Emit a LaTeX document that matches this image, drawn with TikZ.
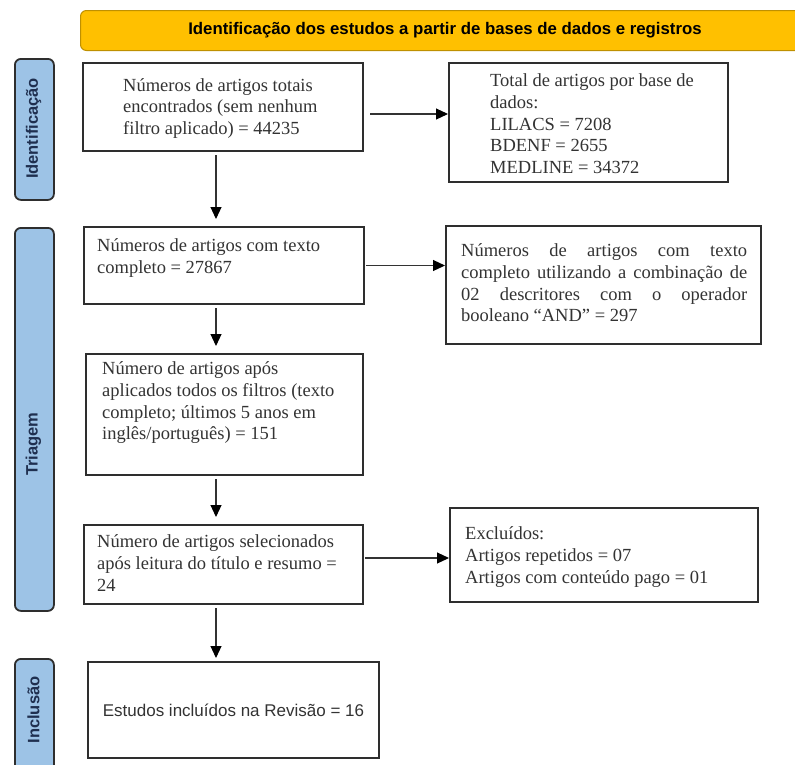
\documentclass[tikz,border=0pt]{standalone}
\usepackage{fontspec}
\setmainfont{Liberation Serif}
\setsansfont{Liberation Sans}
\usetikzlibrary{arrows.meta,calc}
\definecolor{gold}{HTML}{FFC000}
\definecolor{goldline}{HTML}{BF9000}
\definecolor{sideblue}{HTML}{9DC3E6}
\definecolor{sidetext}{HTML}{1F2F4F}
\definecolor{boxline}{HTML}{2E2E2E}
\definecolor{txt}{HTML}{333333}
\newcommand\fls{\rule{0pt}{18pt}}
\begin{document}
\begin{tikzpicture}[x=1pt,y=-1pt,
  frame/.style={draw=boxline, line width=2pt, fill=white, inner sep=0pt, anchor=north west},
  side/.style={draw=boxline, line width=1.8pt, fill=sideblue, rounded corners=6pt, inner sep=0pt, anchor=north west},
  sidelabel/.style={rotate=90, font=\sffamily\bfseries\fontsize{16.5}{20}\selectfont, text=sidetext, inner sep=0pt},
  body/.style={anchor=north west, inner sep=0pt, align=left, text=txt, font=\fontsize{18.5}{21.7}\selectfont},
  arr/.style={draw=txt, line width=1.1pt, -{Triangle[length=12pt,width=11pt,color=black]}},
]
\useasboundingbox (0,0) rectangle (795,764);

% banner
\node[draw=goldline, line width=1pt, fill=gold, rounded corners=6pt, inner sep=0pt,
      anchor=north west, minimum width=725pt, minimum height=40pt] (ban) at (80,10) {};
\node[font=\sffamily\bfseries\fontsize{16.8}{20}\selectfont, inner sep=0pt] (bant)
      at ($(ban.west)+(365,0)$) {Identificação dos estudos a partir de bases de dados e registros};

% side labels
\node[side, minimum width=39pt, minimum height=141pt] (s1) at (14,58) {};
\node[side, minimum width=39pt, minimum height=383pt] (s2) at (14,227) {};
\node[side, minimum width=39pt, minimum height=130pt] (s3) at (14,658) {};
\node[sidelabel] (s1t) at (33.5,128.5) {Identificação};
\node[sidelabel] (s2t) at (33.5,444) {Triagem};
\node[sidelabel] (s3t) at (33.5,710) {Inclusão};

% frames
\node[frame, minimum width=280pt, minimum height=88pt] (b1) at (82,62) {};
\node[frame, minimum width=280pt, minimum height=77pt] (b2) at (83,226) {};
\node[frame, minimum width=277pt, minimum height=121pt] (b3) at (85,353) {};
\node[frame, minimum width=279pt, minimum height=79pt] (b4) at (83,524) {};
\node[frame, minimum width=291pt, minimum height=96pt] (b5) at (87,661) {};
\node[frame, minimum width=279pt, minimum height=119pt] (r1) at (448,62) {};
\node[frame, minimum width=315pt, minimum height=118pt] (r2) at (445,225) {};
\node[frame, minimum width=308pt, minimum height=94pt] (r3) at (449,507) {};

% texts
\node[body] (b1t) at ($(b1.north west)+(41,11)$)
  {\fls Números de artigos totais\\encontrados (sem nenhum\\filtro aplicado) = 44235};
\node[body] (b2t) at ($(b2.north west)+(14,7.5)$)
  {\fls Números de artigos com texto\\completo = 27867};
\node[body] (b3t) at ($(b3.north west)+(17,3.5)$)
  {\fls Número de artigos após\\aplicados todos os filtros (texto\\completo; últimos 5 anos em\\inglês/português) = 151};
\node[body] (b4t) at ($(b4.north west)+(14,5.5)$)
  {\fls Número de artigos selecionados\\após leitura do título e resumo =\\24};
\node[font=\sffamily\fontsize{17}{20}\selectfont, text=txt, inner sep=0pt] (b5t)
  at (b5.center) {Estudos incluídos na Revisão = 16};
\node[body] (r1t) at ($(r1.north west)+(42,6.5)$)
  {\fls Total de artigos por base de\\dados:\\LILACS = 7208\\BDENF = 2655\\MEDLINE = 34372};
\node[body, text width=286pt, align=justify] (r2t) at ($(r2.north west)+(16,13.5)$)
  {\hyphenpenalty=10000 \tolerance=10000 \hbadness=10000 \fls Números de artigos com texto\linebreak completo utilizando a combinação de\linebreak 02 descritores com o operador\linebreak booleano “AND” = 297};
\node[body] (r3t) at ($(r3.north west)+(16,14.5)$)
  {\fls Excluídos:\\Artigos repetidos = 07\\Artigos com conteúdo pago = 01};

% arrows
\coordinate (ax) at (216,0);
\draw[arr] ($(b1.south -| ax)+(0,3)$) -- ($(b2.north -| ax)+(0,-7)$);
\draw[arr] ($(b2.south -| ax)+(0,3)$) -- ($(b3.north -| ax)+(0,-7)$);
\draw[arr] ($(b3.south -| ax)+(0,3)$) -- ($(b4.north -| ax)+(0,-7)$);
\draw[arr] ($(b4.south -| ax)+(0,3)$) -- ($(b5.north -| ax)+(0,-3)$);
\draw[arr] ($(b1.east)+(6,7)$) coordinate (h1) -- (h1 -| r1.west);
\draw[arr] ($(b2.east)+(1,0)$) coordinate (h2) -- (h2 -| r2.west);
\draw[arr] ($(b4.east)+(1,-6.5)$) coordinate (h3) -- (h3 -| r3.west);
\end{tikzpicture}
\end{document}
